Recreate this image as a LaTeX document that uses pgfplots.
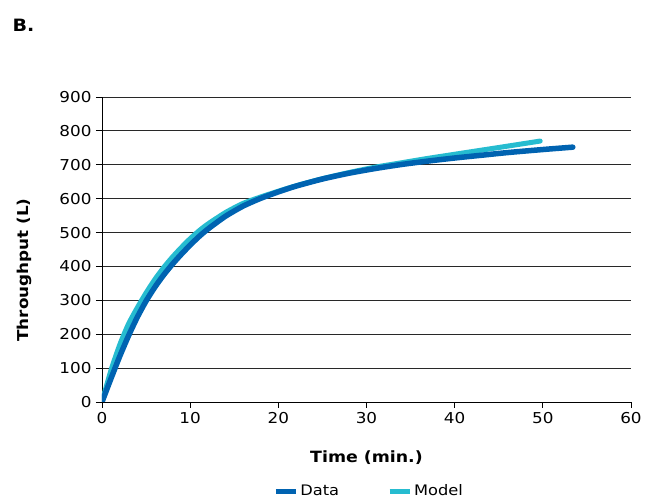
\documentclass[border=0pt]{standalone}
\usepackage{pgfplots}
\pgfplotsset{compat=1.18}
\usepackage{fontspec}
\setmainfont[FakeStretch=1.12]{DejaVu Sans}
\definecolor{datablue}{RGB}{0,99,177}
\definecolor{modelcyan}{RGB}{38,188,208}
\definecolor{gridgray}{RGB}{40,40,40}

\begin{document}
\begin{tikzpicture}
\useasboundingbox (-102pt,-100pt) rectangle (543pt,402pt);
\node[anchor=west, font=\bfseries\fontsize{17}{19}\selectfont] at (-93pt,377pt) {B.};
\begin{axis}[
  scale only axis,
  width=529pt, height=305pt,
  xmin=0, xmax=60, ymin=0, ymax=900,
  xtick={0,10,...,60}, ytick={0,100,...,900},
  axis x line*=bottom, axis y line*=left,
  axis line style={black, line width=0.9pt},
  ymajorgrids,
  grid style={gridgray, line width=0.9pt},
  tick align=outside, major tick length=6pt,
  tick style={black, line width=0.9pt},
  /pgf/number format/assume math mode=true,
  tick label style={font=\fontsize{15}{17}\selectfont},
  xticklabel style={yshift=-1pt},
  yticklabel style={xshift=-1pt},
  xlabel={Time (min.)}, ylabel={Throughput (L)},
  every axis x label/.style={at={(axis description cs:0.5,-0.184)}, anchor=center,
    font=\bfseries\fontsize{15.5}{18}\selectfont},
  every axis y label/.style={at={(axis description cs:-0.146,0.433)}, rotate=90, anchor=center,
    font=\bfseries\fontsize{15}{18}\selectfont},
  legend columns=2,
  legend style={at={(axis description cs:0.505,-0.292)}, anchor=center, draw=none,
    font=\fontsize{14.5}{16}\selectfont,
    /tikz/every even column/.append style={column sep=46pt}},
  legend image code/.code={\draw[#1, line width=5pt] (0pt,0pt) -- (20pt,0pt);},
  legend entries={Data, Model},
]
\addlegendimage{datablue}
\addlegendimage{modelcyan}

% fitted model curve
\addplot[modelcyan, line width=5pt, line cap=round, line join=round, smooth, tension=0.4, forget plot]
  coordinates {(0,0) (1,92) (2,168) (3,230) (4,278) (5,322) (6,362) (7,397)
    (8,428) (9,456) (10,482) (11,505) (12,525) (14,559) (16,586) (18,605)
    (20,622) (22,638) (25,659) (28,677) (31,693) (34,706) (37,719) (40,731)
    (43,743) (46,755) (49.7,770)};

% measured throughput
\addplot[datablue, line width=5.5pt, line cap=round, line join=round, smooth, tension=0.4, forget plot]
  coordinates {(0,0) (1,68) (2,134) (3,195) (4,250) (5,298) (6,339) (7,375)
    (8,407) (9,436) (10,463) (11,488) (12,510) (14,548) (16,578) (18,601)
    (20,620) (22,637) (25,658) (28,675) (31,689) (34,701) (37,711) (40,720)
    (43,728) (46,736) (50,745) (53.4,752)};
\end{axis}
\end{tikzpicture}
\end{document}
